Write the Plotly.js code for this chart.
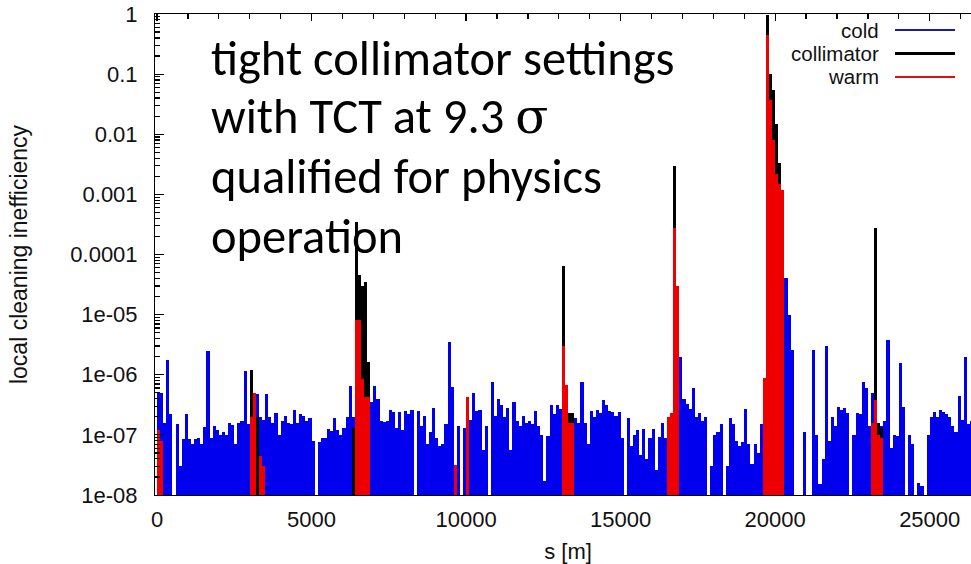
<!DOCTYPE html>
<html>
<head>
<meta charset="utf-8">
<script src="https://cdn.plot.ly/plotly-3.0.1.min.js"></script>
<style>
html, body { margin:0; padding:0; overflow:hidden; background:#fff; width:971px; height:564px; }
#chart { width:1000px; height:564px; }
</style>
</head>
<body>
<div id="chart"></div>
<script>
// ---- data (100 m bins along the ring, s in metres) ----
const binWidth = 100;
const binFirstCentre = 50;

// cold aperture losses, one value per 100 m bin (0 = nothing above 1e-8)
const cold = [
 5.2e-7, 5e-7, 1.6e-7, 1.75e-6, 2.2e-7, 0, 1.5e-7, 3e-8, 8.5e-8, 2.2e-7,
 8.5e-8, 7e-8, 8.5e-8, 9e-8, 7e-8, 1.35e-7, 2.5e-6, 9e-8, 1.4e-7, 1.2e-7,
 1e-7, 1.1e-7, 1e-7, 1.6e-7, 1.45e-7, 7e-8, 1.6e-7, 1.7e-7, 1.15e-6, 1.5e-7,
 1.4e-7, 2e-7, 4.7e-7, 2e-7, 1.8e-7, 4.7e-7, 2e-7, 1.6e-7, 2.3e-7, 1e-7,
 1.7e-7, 2.1e-7, 1.6e-7, 1.5e-7, 2.6e-7, 1.6e-7, 2.2e-7, 2.1e-7, 1.7e-7, 1.9e-7,
 8e-8, 0, 7.5e-8, 9e-8, 9e-8, 1.25e-7, 1.15e-7, 1.9e-7, 1.2e-7, 1e-7,
 1.3e-7, 2e-7, 6.5e-7, 2e-7, 0, 0, 0, 0, 0, 3.5e-7,
 6.5e-7, 4e-7, 1.7e-7, 1.65e-7, 1.7e-7, 2.6e-7, 2.4e-7, 1.3e-7, 2.4e-7, 1.2e-7,
 2.5e-7, 2.2e-7, 2.6e-7, 0, 2.5e-7, 1.4e-7, 2.1e-7, 7e-8, 1.1e-7, 2.8e-7,
 9e-8, 6.5e-8, 7e-8, 1.5e-7, 3.5e-6, 6.3e-7, 0, 1.4e-7, 0, 1.3e-7,
 7e-8, 1.8e-7, 5e-7, 2.5e-7, 2.6e-7, 5.6e-8, 1.4e-7, 0, 7.5e-7, 2.1e-7,
 4e-7, 3.2e-7, 2e-7, 2.8e-7, 5.5e-8, 3.5e-7, 1.7e-7, 1.4e-7, 2.1e-7, 1.6e-7,
 1.7e-7, 1.5e-7, 2.5e-7, 1.4e-7, 1e-7, 1.7e-8, 9.5e-8, 3.2e-7, 2.2e-7, 3.2e-7,
 2.7e-7, 0, 3e-7, 2e-7, 2e-7, 1.9e-7, 1.6e-7, 7.5e-7, 1.6e-7, 7e-8,
 2.5e-7, 2e-7, 2.6e-7, 2.3e-7, 3.8e-7, 3.2e-7, 2.5e-7, 2.4e-7, 2.1e-7, 2.4e-7,
 9e-8, 0, 1.9e-7, 6.5e-8, 1e-7, 1.2e-7, 4.6e-8, 1.25e-7, 4e-8, 9e-8,
 1.25e-7, 2.6e-8, 9.3e-8, 1.6e-7, 9e-8, 0, 0, 0, 0, 2e-6,
 4e-7, 3.3e-7, 2.7e-7, 6e-7, 2e-7, 2.3e-7, 1.7e-7, 2e-7, 0, 3e-8,
 1e-7, 1.1e-7, 1.5e-7, 0, 3e-8, 1.9e-7, 1.5e-7, 8e-8, 6.5e-8, 7.5e-8,
 2.7e-7, 7e-8, 3.3e-8, 7e-8, 5e-8, 1.5e-7, 5.5e-7, 8e-7, 0, 0,
 0, 0, 0, 4e-5, 1e-5, 2.6e-6, 0, 0, 0, 1.1e-7,
 0, 0, 2.6e-6, 1e-7, 1.5e-8, 4e-8, 3e-6, 8e-8, 2e-7, 1.4e-7,
 2.9e-7, 2.6e-7, 2.8e-7, 2.3e-7, 0, 1e-7, 2.3e-7, 2.2e-7, 7.6e-7, 6e-7,
 1.4e-7, 5e-7, 0, 1.5e-7, 1.4e-7, 1.7e-7, 3.8e-6, 6e-8, 1e-7, 9.5e-8,
 1.55e-6, 2.9e-7, 0, 1e-7, 7e-8, 0, 1.6e-8, 1.4e-8, 0, 1e-7,
 2e-7, 2.4e-7, 2e-7, 2.6e-7, 2.4e-7, 2.2e-7, 2e-7, 1.4e-7, 1.1e-7, 4.5e-7,
 1.8e-7, 2e-6, 1.5e-7, 1.7e-7
];

// collimator losses (bin centre s, value)
const collS = [50, 3050, 3250, 3450, 6350, 6450, 6550, 6650, 6750, 6850,
  13150, 13350, 13450, 16750, 16850, 19750, 19850, 19950, 20050, 20150, 20250,
  23250, 23350, 23450];
const collV = [1.8e-8, 1.2e-6, 2e-7, 2.6e-8, 1.3e-7, 3.5e-4, 4.5e-5, 3e-5, 3.5e-5, 1.6e-6,
  6.5e-5, 2.3e-7, 2.3e-7, 3e-3, 3e-5, 0.95, 0.1, 0.055, 0.015, 3.3e-3, 1e-3,
  2.8e-4, 1.6e-7, 1.3e-7];

// warm element losses (bin centre s, value)
const warmS = [50, 150, 3050, 3150, 3350, 3450, 6450, 6550, 6650, 6750, 6850,
  9650, 10050, 13150, 13250, 13350, 13450, 16550, 16650, 16750, 16850,
  19650, 19750, 19850, 19950, 20050, 20150, 20250, 23150, 23250, 23350, 23450];
const warmV = [1.2e-7, 8e-8, 2e-7, 5e-7, 4.4e-8, 3e-8, 8e-6, 8e-6, 8.5e-7, 4.3e-7, 4.3e-7,
  3.2e-8, 4.3e-7, 3e-6, 6.8e-7, 1.6e-7, 1.6e-7, 2e-7, 2.3e-7, 2.8e-4, 3e-5,
  9e-7, 0.45, 0.037, 8e-3, 2.2e-3, 1.5e-3, 1.2e-3, 1.6e-7, 3.8e-7, 1e-7, 9e-8];

const yTickVals = [1e-8, 1e-7, 1e-6, 1e-5, 1e-4, 1e-3, 1e-2, 1e-1, 1];
const yTickText = ['1e-08', '1e-07', '1e-06', '1e-05', '0.0001', '0.001', '0.01', '0.1', '1'];
const xTickVals = [0, 5000, 10000, 15000, 20000, 25000];
const xTickText = ['0', '5000', '10000', '15000', '20000', '25000'];
const topMajorTicks = [0, 5000, 10000, 15000, 20000, 25000];
const topMinorTicks = [1000, 2000, 3000, 4000, 6000, 7000, 8000, 9000, 11000, 12000, 13000, 14000,
  16000, 17000, 18000, 19000, 21000, 22000, 23000, 24000, 26000];
const minorMantissas = [2, 3, 4, 5, 6, 7, 8, 9];

const seriesNames = ['cold', 'collimator', 'warm'];
const seriesColors = ['#0000ee', '#000000', '#ee0000'];
const legendLineColors = ['#1c1ca0', '#000000', '#e01010'];

const noteLines = ['tight collimator settings',
  'with TCT at 9.3 <span style="font-family:\'DejaVu Serif\'">σ</span>',
  'qualified for physics', 'operation'];

// ---- drawing ----
const pos = v => (v > 0 ? v : null);
const tickFont = {family: 'Liberation Sans, Arial, sans-serif', size: 22, color: '#111'};

// minor tick positions of the log axis (2..9 times each decade)
const yMinor = [];
for (let e = -8; e < 0; e++) minorMantissas.forEach(m => yMinor.push(m * Math.pow(10, e)));

const traces = [
  {type: 'bar', name: seriesNames[0], x0: binFirstCentre, dx: binWidth, y: cold.map(pos),
   width: binWidth, marker: {color: seriesColors[0], line: {width: 0}}, hoverinfo: 'x+y'},
  {type: 'bar', name: seriesNames[1], x: collS, y: collV, width: binWidth,
   marker: {color: seriesColors[1], line: {width: 0}}, hoverinfo: 'x+y'},
  {type: 'bar', name: seriesNames[2], x: warmS, y: warmV, width: binWidth,
   marker: {color: seriesColors[2], line: {width: 0}}, hoverinfo: 'x+y'},
  {type: 'scatter', mode: 'markers', x: [1000], y: [null], xaxis: 'x2', yaxis: 'y',
   showlegend: false, hoverinfo: 'skip'}
];

const L = 155, R = 19, T = 14, B = 69, W = 1000, H = 564;
const pw = W - L - R, ph = H - T - B;
const px = x => (x - L) / pw;
const py = y => (H - B - y) / ph;

const annotations = [];
const shapes = [];
const noteCentres = [58, 117, 177, 237];
noteLines.forEach((t, i) => annotations.push({
  xref: 'paper', yref: 'paper', x: px(209), y: py(noteCentres[i]),
  xanchor: 'left', yanchor: 'middle', showarrow: false, text: t,
  font: {family: 'Carlito, Open Sans, sans-serif', size: 48.5, color: '#000'}
}));
const legRows = [30, 53.5, 77];
seriesNames.forEach((n, i) => {
  annotations.push({xref: 'paper', yref: 'paper', x: px(880), y: py(legRows[i]),
    xanchor: 'right', yanchor: 'middle', showarrow: false, text: n,
    borderpad: 0,
    font: {family: 'Liberation Sans, Arial, sans-serif', size: 20.5, color: '#111'}});
  shapes.push({type: 'line', xref: 'paper', yref: 'paper', x0: px(895), x1: px(955),
    y0: py(legRows[i]), y1: py(legRows[i]),
    line: {color: legendLineColors[i], width: i === 1 ? 3 : 2}});
});

const layout = {
  width: W, height: H,
  margin: {l: L, r: R, t: T, b: B, pad: 0},
  paper_bgcolor: '#fff', plot_bgcolor: '#fff',
  barmode: 'overlay', bargap: 0, showlegend: false,
  xaxis: {range: [-65, 26659], showline: true, linecolor: '#000', linewidth: 1, mirror: true,
    ticks: '', tickvals: xTickVals, ticktext: xTickText, tickfont: tickFont,
    ticklabelstandoff: 5, showgrid: false, zeroline: false,
    title: {text: 's [m]', font: tickFont, standoff: 14}},
  xaxis2: {overlaying: 'x', side: 'top', anchor: 'y', range: [-65, 26659],
    ticks: 'inside', ticklen: 7, tickwidth: 1.2, tickcolor: '#000', tickmode: 'array', tickvals: topMajorTicks,
    showticklabels: false, showline: false, showgrid: false, zeroline: false, layer: 'above traces',
    minor: {ticks: 'inside', ticklen: 5, tickwidth: 1.2, tickmode: 'array', tickvals: topMinorTicks,
      tickcolor: '#000', showgrid: false}},
  yaxis: {type: 'log', range: [-8, 0], showline: true, linecolor: '#000', linewidth: 1, mirror: true,
    ticks: 'inside', ticklen: 9, tickwidth: 1.2, tickcolor: '#000', tickvals: yTickVals, ticktext: yTickText,
    tickfont: tickFont, ticklabelstandoff: 12, showgrid: false, zeroline: false, layer: 'above traces',
    minor: {ticks: 'inside', ticklen: 5, tickwidth: 1.2, tickmode: 'array', tickvals: yMinor,
      tickcolor: '#000', showgrid: false},
    title: {text: 'local cleaning inefficiency', font: {family: tickFont.family, size: 23, color: '#111'},
      standoff: 36}},
  annotations: annotations,
  shapes: shapes
};

Plotly.newPlot('chart', traces, layout, {displayModeBar: false, staticPlot: true});
</script>
</body>
</html>
